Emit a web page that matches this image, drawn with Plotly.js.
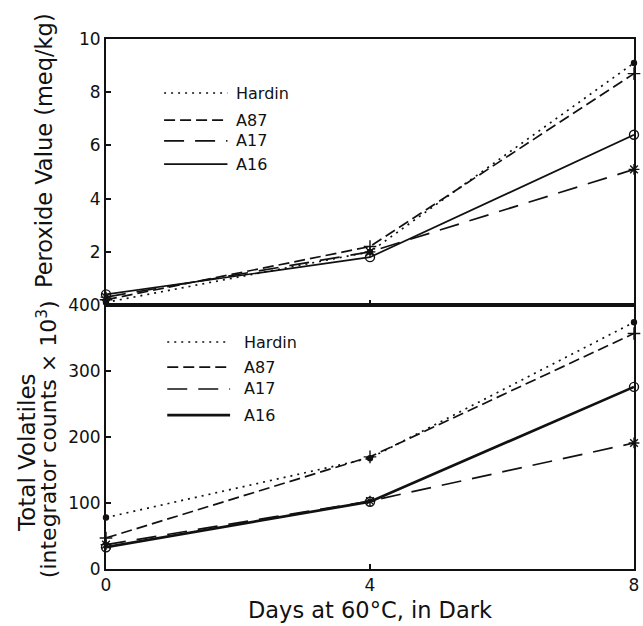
<!DOCTYPE html>
<html><head><meta charset="utf-8">
<script src="https://cdn.plot.ly/plotly-3.0.1.min.js"></script>
<style>body{margin:0;background:#fff}#c{width:643px;height:626px}</style>
</head><body><div id="c"></div>
<script>
const days = [0, 4, 8];
const seriesNames = ['Hardin', 'A87', 'A17', 'A16'];
const peroxide = {
  Hardin: [0.1, 2.0, 9.1],
  A87:    [0.2, 2.2, 8.7],
  A17:    [0.3, 2.0, 5.1],
  A16:    [0.4, 1.8, 6.4]
};
const volatiles = {
  Hardin: [78, 168, 374],
  A87:    [47, 170, 357],
  A17:    [37, 103, 191],
  A16:    [33, 102, 276]
};
const peroxideTicks = [2, 4, 6, 8, 10];
const volatileTicks = [0, 100, 200, 300, 400];
const dayTicks = [0, 4, 8];

const dashes = {Hardin: '2px,5px', A87: '11px,5px', A17: '20px,11px', A16: 'solid'};
const symbols = {Hardin: 'circle', A87: 'cross-thin-open', A17: 'asterisk-open', A16: 'circle-open'};
const msize = {Hardin: 5, A87: 9, A17: 9, A16: 9};
const widthTop = {Hardin: 1.7, A87: 1.7, A17: 1.7, A16: 1.7};
const widthBot = {Hardin: 1.7, A87: 1.7, A17: 1.7, A16: 2.7};

const traces = [];
seriesNames.forEach(n => {
  traces.push({x: days, y: peroxide[n], xaxis: 'x2', yaxis: 'y2', mode: 'lines+markers',
    line: {color: '#111', width: widthTop[n], dash: dashes[n]},
    marker: {symbol: symbols[n], size: msize[n], color: '#111', line: {color: '#111', width: 1.4}},
    cliponaxis: false, showlegend: false, name: n});
  traces.push({x: days, y: volatiles[n], xaxis: 'x', yaxis: 'y', mode: 'lines+markers',
    line: {color: '#111', width: widthBot[n], dash: dashes[n]},
    marker: {symbol: symbols[n], size: msize[n], color: '#111', line: {color: '#111', width: 1.4}},
    cliponaxis: false, showlegend: false, name: n});
});

const font = {family: 'DejaVu Sans, Liberation Sans, sans-serif', color: '#111'};
const shapes = [], annotations = [];
const topRows = [0.797, 0.695, 0.617, 0.53];
const botRows = [0.86, 0.765, 0.682, 0.583];
seriesNames.forEach((n, i) => {
  shapes.push({type: 'line', xref: 'x2 domain', yref: 'y2 domain', x0: 0.11, x1: 0.23, y0: topRows[i], y1: topRows[i],
    line: {color: '#111', width: widthTop[n], dash: dashes[n]}});
  annotations.push({xref: 'x2 domain', yref: 'y2 domain', x: 0.242, y: topRows[i], text: n, showarrow: false,
    xanchor: 'left', yanchor: 'middle', font: Object.assign({size: 16}, font)});
  shapes.push({type: 'line', xref: 'x domain', yref: 'y domain', x0: 0.116, x1: 0.235, y0: botRows[i], y1: botRows[i],
    line: {color: '#111', width: widthBot[n], dash: dashes[n]}});
  annotations.push({xref: 'x domain', yref: 'y domain', x: 0.258, y: botRows[i], text: n, showarrow: false,
    xanchor: 'left', yanchor: 'middle', font: Object.assign({size: 16}, font)});
});
annotations.push({xref: 'paper', yref: 'paper', x: -0.117, y: 0.789, text: 'Peroxide Value (meq/kg)',
  textangle: -90, showarrow: false, xanchor: 'center', yanchor: 'middle', font: Object.assign({size: 22.5}, font)});
annotations.push({xref: 'paper', yref: 'paper', x: -0.1496, y: 0.219, text: 'Total Volatiles',
  textangle: -90, showarrow: false, xanchor: 'center', yanchor: 'middle', font: Object.assign({size: 23}, font)});
annotations.push({xref: 'paper', yref: 'paper', x: -0.1117, y: 0.245, text: '(integrator counts × 10<sup>3</sup>)',
  textangle: -90, showarrow: false, xanchor: 'center', yanchor: 'middle', font: Object.assign({size: 22}, font)});

const axBase = {showgrid: false, zeroline: false, showline: true, linecolor: '#111', linewidth: 2,
  mirror: true, ticks: 'inside', ticklen: 5, tickwidth: 2, tickcolor: '#111',
  tickfont: Object.assign({size: 17}, font)};

const layout = {
  width: 643, height: 626,
  margin: {l: 106, r: 9, t: 39, b: 57},
  paper_bgcolor: '#fff', plot_bgcolor: '#fff',
  showlegend: false,
  xaxis: Object.assign({}, axBase, {range: [0, 8], tickvals: dayTicks, anchor: 'y',
    title: {text: 'Days at 60°C, in Dark', font: Object.assign({size: 22.5}, font), standoff: 8}}),
  xaxis2: Object.assign({}, axBase, {range: [0, 8], tickvals: dayTicks, anchor: 'y2', showticklabels: false, matches: 'x'}),
  yaxis: Object.assign({}, axBase, {range: [0, 400], tickvals: volatileTicks, domain: [0, 0.498], anchor: 'x'}),
  yaxis2: Object.assign({}, axBase, {range: [0, 10], tickvals: peroxideTicks, domain: [0.498, 1], anchor: 'x2'}),
  shapes: shapes, annotations: annotations
};
Plotly.newPlot('c', traces, layout, {displayModeBar: false, staticPlot: true});
</script></body></html>
